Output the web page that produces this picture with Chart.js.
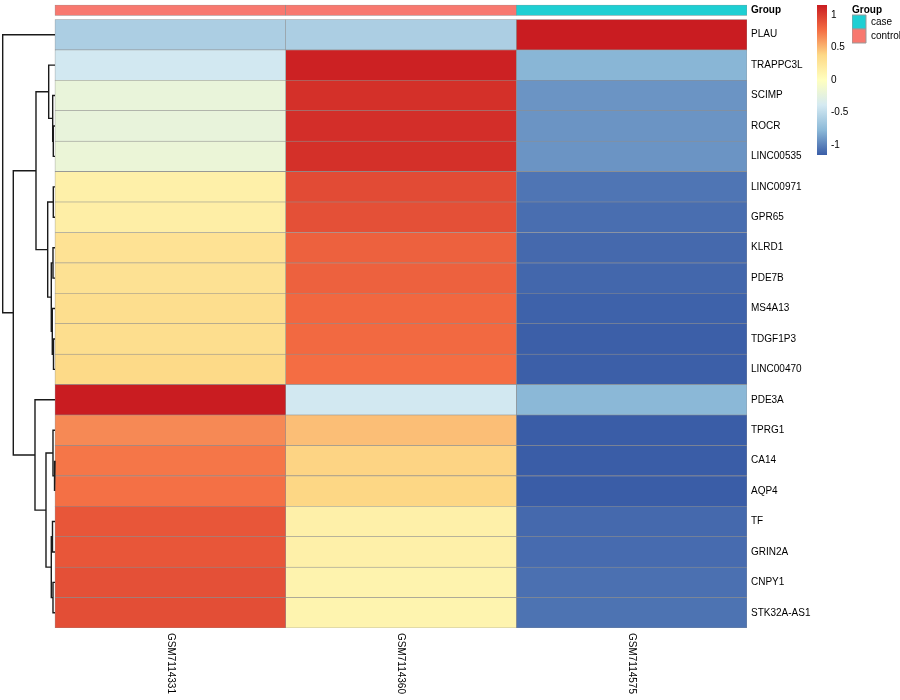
<!DOCTYPE html>
<html>
<head>
<meta charset="utf-8">
<script src="https://cdn.jsdelivr.net/npm/chart.js@4.4.1/dist/chart.umd.min.js"></script>
<style>
  html, body { margin: 0; padding: 0; background: #fff; overflow: hidden; }
  #wrap { position: relative; width: 900px; height: 700px; overflow: hidden; }
  #wrap canvas { position: absolute; top: 0; }
</style>
</head>
<body>
<div id="wrap">
  <canvas id="heat" width="900" height="700" style="left:0"></canvas>
  <canvas id="scale" width="50" height="170" style="left:810px"></canvas>
  <canvas id="groups" width="60" height="60" style="left:852px"></canvas>
</div>
<script>
// genes, top to bottom in clustered order
const genes = ['PLAU', 'TRAPPC3L', 'SCIMP', 'ROCR', 'LINC00535', 'LINC00971', 'GPR65', 'KLRD1', 'PDE7B',
  'MS4A13', 'TDGF1P3', 'LINC00470', 'PDE3A', 'TPRG1', 'CA14', 'AQP4', 'TF', 'GRIN2A', 'CNPY1', 'STK32A-AS1'];

const samples = ['GSM7114331', 'GSM7114360', 'GSM7114575'];
const sampleGroup = ['control', 'control', 'case'];
const groupNames = ['case', 'control'];

// row scaled values per sample
const gsm7114331 = [-0.60, -0.40, -0.20, -0.21, -0.18, 0.15, 0.17, 0.29, 0.30, 0.33,
  0.33, 0.37, 1.155, 0.67, 0.74, 0.76, 0.88, 0.88, 0.91, 0.92];
const gsm7114360 = [-0.60, 1.13, 1.06, 1.07, 1.06, 0.93, 0.91, 0.83, 0.83, 0.80,
  0.79, 0.77, -0.40, 0.48, 0.40, 0.39, 0.15, 0.15, 0.12, 0.11];
const gsm7114575 = [1.155, -0.78, -0.92, -0.92, -0.92, -1.05, -1.08, -1.10, -1.11, -1.13,
  -1.14, -1.14, -0.77, -1.15, -1.15, -1.15, -1.10, -1.09, -1.07, -1.06];

// row dendrogram, hclust style: a gene name is a leaf, a number is an earlier merge step (1-based)
const mergeA = ['ROCR', 'SCIMP', 'TRAPPC3L', 'LINC00971', 'KLRD1', 'TDGF1P3', 'MS4A13', 5, 4, 3,
  'CA14', 'TPRG1', 'TF', 'CNPY1', 13, 12, 'PDE3A', 10, 'PLAU'];
const mergeB = ['LINC00535', 1, 2, 'GPR65', 'PDE7B', 'LINC00470', 6, 7, 8, 9,
  'AQP4', 11, 'GRIN2A', 'STK32A-AS1', 14, 15, 16, 17, 18];
const mergeHeight = [0.17, 0.23, 0.63, 0.17, 0.20, 0.15, 0.27, 0.37, 0.73, 1.90,
  0.07, 0.20, 0.25, 0.20, 0.37, 0.90, 2.00, 4.17, 5.23];

const legendTicks = [-1, -0.5, 0, 0.5, 1];

// styling
const palette = ['#3A5DA7', '#8CB9D8', '#D5EAF2', '#FFFFBF', '#FDD886', '#F46D43', '#C91C21'];
const groupColors = { case: '#1ECFD3', control: '#F8786F' };
const FONT = '"Liberation Sans", Arial, Helvetica, sans-serif';
const X_MIN = -0.2384;        // room left of the cells for the dendrogram
const DENDRO_UNIT = 0.04335;  // x units per unit of merge height
const Y_MIN = -0.641;         // room above the cells for the annotation bar
const ANNOT = [-0.477, -0.132];

Chart.defaults.font.family = FONT;
Chart.defaults.font.size = 10;
Chart.defaults.color = '#000';

const columns = [gsm7114331, gsm7114360, gsm7114575];
const allValues = columns.flat();
const vMin = Math.min(...allValues);
const vMax = Math.max(...allValues);

function hexToRgb(h) {
  const n = parseInt(h.slice(1), 16);
  return [(n >> 16) & 255, (n >> 8) & 255, n & 255];
}

function heatColor(v) {
  const t = Math.min(1, Math.max(0, (v - vMin) / (vMax - vMin))) * (palette.length - 1);
  const i = Math.min(palette.length - 2, Math.floor(t));
  const f = t - i;
  const a = hexToRgb(palette[i]), b = hexToRgb(palette[i + 1]);
  const c = a.map((x, k) => Math.round(x + (b[k] - x) * f));
  return `rgb(${c[0]},${c[1]},${c[2]})`;
}

// no label padding above / below the y axes, rows start right at the chart edge
function fixAxis(width) {
  return s => {
    s.width = width;
    s.paddingTop = 0;
    s.paddingBottom = 0;
  };
}

// heatmap cells, one dataset per sample
const cellSets = samples.map((s, c) => ({
  label: s,
  data: genes.map((g, i) => ({ x: c + 0.5, y: [i, i + 1] })),
  backgroundColor: columns[c].map(heatColor),
  borderColor: '#8f8f8f',
  borderWidth: 0.6,
  borderSkipped: false
}));

// group annotation row
const annotSet = {
  label: 'Group',
  data: samples.map((s, c) => ({ x: c + 0.5, y: ANNOT })),
  backgroundColor: sampleGroup.map(g => groupColors[g]),
  borderColor: '#8f8f8f',
  borderWidth: 0.6,
  borderSkipped: false
};

// dendrogram
function node(ref) {
  if (typeof ref === 'string') return { h: 0, y: genes.indexOf(ref) + 0.5 };
  const k = ref - 1;
  const a = node(mergeA[k]), b = node(mergeB[k]);
  return { h: mergeHeight[k], y: (a.y + b.y) / 2 };
}
const hx = h => -h * DENDRO_UNIT;

const dendroSets = mergeHeight.map((h, k) => {
  const a = node(mergeA[k]), b = node(mergeB[k]);
  return {
    type: 'line',
    data: [
      { x: hx(a.h), y: a.y }, { x: hx(h), y: a.y },
      { x: hx(h), y: b.y }, { x: hx(b.h), y: b.y }
    ],
    borderColor: '#1a1a1a',
    borderWidth: 1.4,
    pointRadius: 0,
    fill: false,
    tension: 0
  };
});

// rotated sample names under the columns
const sampleLabels = {
  id: 'sampleLabels',
  afterDraw(chart) {
    const { ctx, chartArea } = chart;
    const x = chart.scales.x;
    ctx.save();
    ctx.font = '10px ' + FONT;
    ctx.fillStyle = '#000';
    ctx.textAlign = 'left';
    ctx.textBaseline = 'middle';
    samples.forEach((s, c) => {
      ctx.save();
      ctx.translate(x.getPixelForValue(c + 0.5), chartArea.bottom + 5);
      ctx.rotate(Math.PI / 2);
      ctx.fillText(s, 0, 0);
      ctx.restore();
    });
    ctx.restore();
  }
};

new Chart(document.getElementById('heat'), {
  type: 'bar',
  data: { datasets: [...dendroSets, annotSet, ...cellSets] },
  options: {
    responsive: false,
    animation: false,
    events: [],
    layout: { padding: { left: 0, right: 0, top: 0, bottom: 72 }, autoPadding: false },
    datasets: { bar: { grouped: false, barPercentage: 1, categoryPercentage: 1 } },
    plugins: { legend: { display: false }, tooltip: { enabled: false } },
    scales: {
      x: {
        type: 'linear', min: X_MIN, max: samples.length, offset: false, display: false,
        afterBuildTicks: s => { s.ticks = samples.map((_, c) => ({ value: c + 0.5 })); }
      },
      y: {
        type: 'linear', reverse: true, min: Y_MIN, max: genes.length, position: 'right',
        grid: { display: false, drawTicks: false },
        border: { display: false },
        afterBuildTicks: s => {
          s.ticks = [{ value: (ANNOT[0] + ANNOT[1]) / 2 }].concat(genes.map((g, i) => ({ value: i + 0.5 })));
        },
        afterFit: fixAxis(153),
        ticks: {
          autoSkip: false,
          padding: 4,
          color: '#000',
          font: c => ({ size: 10, weight: c.index === 0 ? 'bold' : 'normal' }),
          callback: (v, i) => i === 0 ? 'Group' : genes[i - 1]
        }
      }
    }
  },
  plugins: [sampleLabels]
});

// colour key
new Chart(document.getElementById('scale'), {
  type: 'bar',
  data: {
    labels: [''],
    datasets: [{
      data: [[vMin, vMax]],
      borderWidth: 0,
      barPercentage: 1,
      categoryPercentage: 1,
      backgroundColor: c => {
        const chart = c.chart;
        if (!chart.chartArea) return palette[0];
        const y = chart.scales.y;
        const g = chart.ctx.createLinearGradient(0, y.getPixelForValue(vMin), 0, y.getPixelForValue(vMax));
        palette.forEach((col, i) => g.addColorStop(i / (palette.length - 1), col));
        return g;
      }
    }]
  },
  options: {
    responsive: false,
    animation: false,
    events: [],
    layout: { padding: { left: 7, right: 0, top: 5, bottom: 15 }, autoPadding: false },
    plugins: { legend: { display: false }, tooltip: { enabled: false } },
    scales: {
      x: { display: false },
      y: {
        position: 'right', min: vMin, max: vMax,
        grid: { display: false, drawTicks: false },
        border: { display: false },
        afterBuildTicks: s => { s.ticks = legendTicks.map(v => ({ value: v })); },
        afterFit: fixAxis(33),
        ticks: { padding: 4, color: '#000', font: { size: 10 }, callback: v => String(v) }
      }
    }
  }
});

// group legend
new Chart(document.getElementById('groups'), {
  type: 'bar',
  data: { labels: [], datasets: [] },
  options: {
    responsive: false,
    animation: false,
    events: [],
    layout: { padding: 0 },
    scales: { x: { display: false }, y: { display: false } },
    plugins: {
      tooltip: { enabled: false },
      legend: {
        position: 'left',
        align: 'start',
        maxWidth: 60,
        title: {
          display: true, text: 'Group', position: 'start', color: '#000',
          padding: { top: 5, bottom: 0 },
          font: { size: 10, weight: 'bold', lineHeight: 1 }
        },
        labels: {
          boxWidth: 14, boxHeight: 14, padding: 0, color: '#000', font: { size: 10 },
          generateLabels: () => groupNames.map(g => ({
            text: g, fillStyle: groupColors[g], strokeStyle: '#999999', lineWidth: 1, hidden: false
          }))
        }
      }
    }
  }
});
</script>
</body>
</html>
